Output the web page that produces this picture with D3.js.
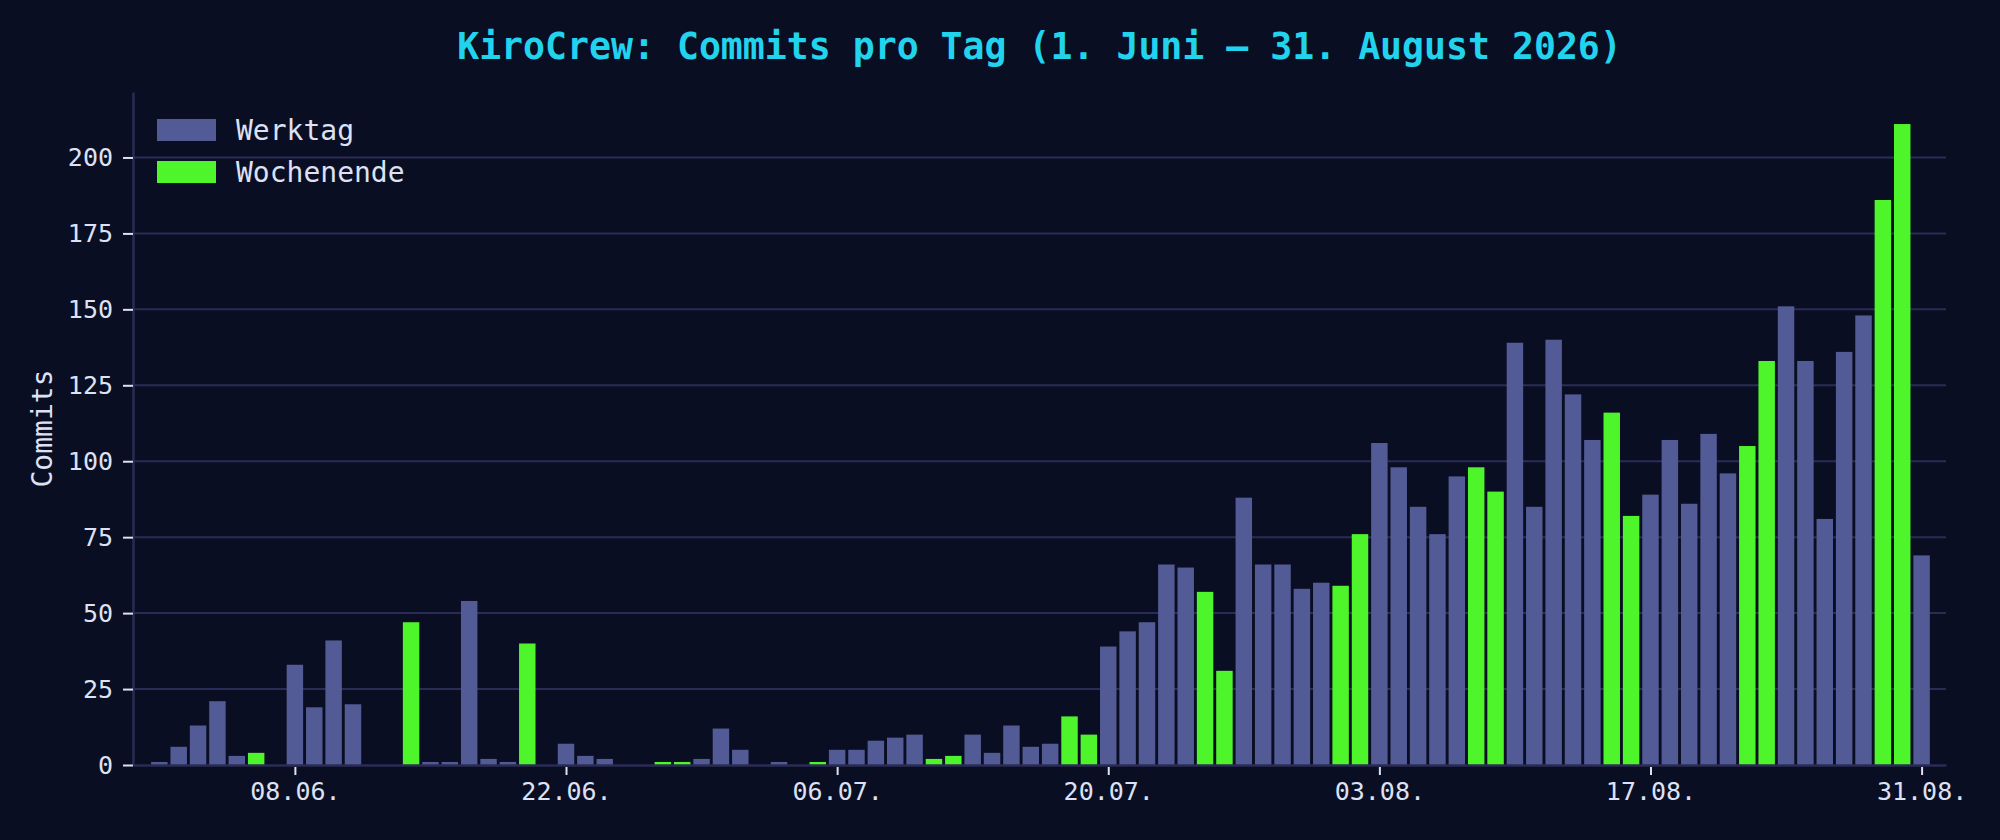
<!DOCTYPE html>
<html>
<head>
<meta charset="utf-8">
<script src="https://cdn.jsdelivr.net/npm/d3@7"></script>
<style>
  html, body { margin: 0; padding: 0; background: #0a0e23; }
  svg { display: block; }
</style>
</head>
<body>
<div id="chart"></div>
<script>
// commits per day, 1 June .. 31 August 2026
var start_day = new Date(2026, 5, 1);
var commits = [
    1, 6, 13, 21, 3, 4, 0,          // 01.06. - 07.06.
    33, 19, 41, 20, 0, 0, 47,       // 08.06. - 14.06.
    1, 1, 54, 2, 1, 40, 0,          // 15.06. - 21.06.
    7, 3, 2, 0, 0, 1, 1,            // 22.06. - 28.06.
    2, 12, 5, 0, 1, 0, 1,           // 29.06. - 05.07.
    5, 5, 8, 9, 10, 2, 3,           // 06.07. - 12.07.
    10, 4, 13, 6, 7, 16, 10,        // 13.07. - 19.07.
    39, 44, 47, 66, 65, 57, 31,     // 20.07. - 26.07.
    88, 66, 66, 58, 60, 59, 76,     // 27.07. - 02.08.
    106, 98, 85, 76, 95, 98, 90,    // 03.08. - 09.08.
    139, 85, 140, 122, 107, 116, 82,// 10.08. - 16.08.
    89, 107, 86, 109, 96, 105, 133, // 17.08. - 23.08.
    151, 133, 81, 136, 148, 186, 211,// 24.08. - 30.08.
    69                              // 31.08.
];
var legend_labels = ["Werktag", "Wochenende"];
var y_ticks = [0, 25, 50, 75, 100, 125, 150, 175, 200];
var x_tick_days = ["2026-06-08", "2026-06-22", "2026-07-06", "2026-07-20",
                   "2026-08-03", "2026-08-17", "2026-08-31"];

var colors = { werktag: "#525b95", wochenende: "#4ff52b" };
var bg = "#0a0e23", grid_col = "#2a2c55", text_col = "#dde1f3", title_col = "#22d3ee";
var font = "'DejaVu Sans Mono', monospace";

var W = 2000, H = 840;
var margin = {top: 92, right: 54, bottom: 75, left: 133};
var width = W - margin.left - margin.right,
    height = H - margin.top - margin.bottom;

var DAY = 864e5;
var data = commits.map(function(v, i) {
    var d = new Date(start_day.getTime() + i * DAY);
    var wd = d.getDay();
    return { date: d, value: v, weekend: (wd == 0 || wd == 6) };
});

var svg = d3.select("#chart")
    .append("svg")
    .attr("width", W)
    .attr("height", H)
    .style("background", bg);

svg.append("rect").attr("width", W).attr("height", H).attr("fill", bg);

var canvas = svg.append("g")
    .attr("transform", "translate(" + margin.left + "," + margin.top + ")");

var scale_x = d3.scaleTime()
    .domain([new Date(start_day.getTime() - 1.36 * DAY),
             new Date(start_day.getTime() + 92.26 * DAY)])
    .range([0, width]);

var scale_y = d3.scaleLinear()
    .domain([0, d3.max(commits) * 1.05])
    .range([height, 0]);

// horizontal grid
canvas.append("g")
    .selectAll("line")
    .data(y_ticks.filter(function(d) { return d > 0; }))
    .enter()
    .append("line")
    .attr("x1", 0).attr("x2", width)
    .attr("y1", function(d) { return scale_y(d); })
    .attr("y2", function(d) { return scale_y(d); })
    .attr("stroke", grid_col)
    .attr("stroke-width", 2);

// bars
var bar_w = scale_x(new Date(start_day.getTime() + 0.85 * DAY)) - scale_x(start_day);
canvas.append("g")
    .selectAll("rect")
    .data(data.filter(function(d) { return d.value > 0; }))
    .enter()
    .append("rect")
    .attr("x", function(d) { return scale_x(d.date) - bar_w / 2; })
    .attr("y", function(d) { return scale_y(d.value); })
    .attr("width", bar_w)
    .attr("height", function(d) { return scale_y(0) - scale_y(d.value); })
    .attr("fill", function(d) { return d.weekend ? colors.wochenende : colors.werktag; });

// axes
var parse = d3.timeParse("%Y-%m-%d");
var x_axis = canvas.append("g")
    .attr("transform", "translate(0," + height + ")")
    .call(d3.axisBottom(scale_x)
          .tickValues(x_tick_days.map(parse))
          .tickFormat(d3.timeFormat("%d.%m."))
          .tickSize(10)
          .tickPadding(7)
          .tickSizeOuter(0));

var y_axis = canvas.append("g")
    .call(d3.axisLeft(scale_y)
          .tickValues(y_ticks)
          .tickSize(10)
          .tickPadding(10)
          .tickSizeOuter(0));

[x_axis, y_axis].forEach(function(ax) {
    ax.select(".domain").attr("stroke", grid_col).attr("stroke-width", 2.5);
    ax.selectAll(".tick line").attr("stroke", text_col).attr("stroke-width", 2);
    ax.selectAll(".tick text")
        .attr("fill", text_col)
        .style("font-family", font)
        .style("font-size", "25px");
});
x_axis.selectAll(".tick line").attr("y1", 2);

// y label
svg.append("text")
    .attr("transform", "translate(42," + (margin.top + height / 2) + ") rotate(-90)")
    .attr("text-anchor", "middle")
    .attr("dominant-baseline", "central")
    .attr("fill", text_col)
    .style("font-family", font)
    .style("font-size", "28px")
    .text("Commits");

// title
svg.append("text")
    .attr("x", margin.left + width / 2)
    .attr("y", 59)
    .attr("text-anchor", "middle")
    .attr("fill", title_col)
    .style("font-family", font)
    .style("font-size", "36.5px")
    .style("font-weight", "bold")
    .text("KiroCrew: Commits pro Tag (1. Juni \u2013 31. August 2026)");

// legend
var legend = svg.append("g")
    .selectAll("g")
    .data(legend_labels)
    .enter()
    .append("g")
    .attr("transform", function(d, i) { return "translate(157," + (119 + i * 42) + ")"; });

legend.append("rect")
    .attr("width", 59)
    .attr("height", 22)
    .attr("fill", function(d, i) { return i == 0 ? colors.werktag : colors.wochenende; });

legend.append("text")
    .attr("x", 79)
    .attr("y", 11)
    .attr("dominant-baseline", "central")
    .attr("fill", text_col)
    .style("font-family", font)
    .style("font-size", "28px")
    .text(function(d) { return d; });
</script>
</body>
</html>
